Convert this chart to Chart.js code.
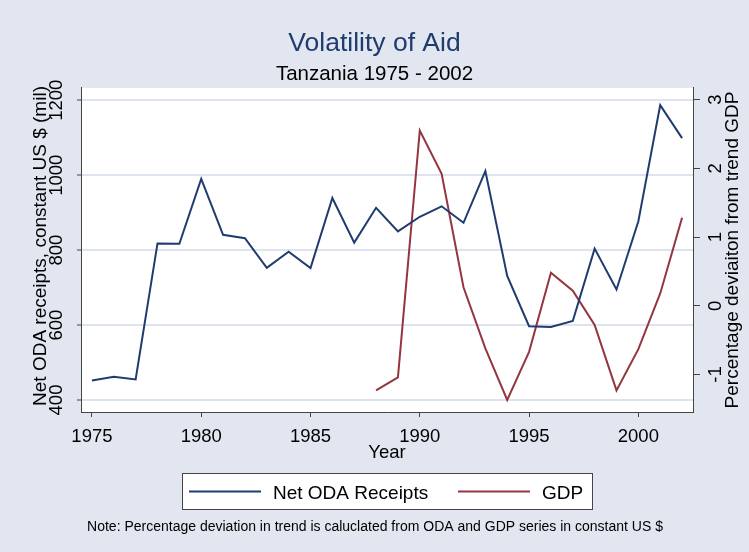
<!DOCTYPE html>
<html lang="en">
<head>
    <meta charset="UTF-8">
    <title>Volatility of Aid</title>
    <script src="https://cdn.jsdelivr.net/npm/chart.js@4.4.1/dist/chart.umd.min.js"></script>
    <style>
        body {
            margin: 0;
            padding: 0;
            background-color: #e2e6f0;
        }
        canvas {
            display: block;
        }
    </style>
</head>
<body>
    <canvas id="aid-chart" width="749" height="552"></canvas>

    <script>
        // Data
        const years = [1975, 1976, 1977, 1978, 1979, 1980, 1981, 1982, 1983, 1984, 1985, 1986, 1987, 1988,
                       1989, 1990, 1991, 1992, 1993, 1994, 1995, 1996, 1997, 1998, 1999, 2000, 2001, 2002];
        const odaValues = [452, 462, 455, 818, 817, 990, 841, 832, 753, 796, 752, 939, 820, 913,
                           850, 889, 917, 873, 1011, 731, 597, 595, 611, 804, 695, 877, 1187, 1099];
        const gdpYears = [1988, 1989, 1990, 1991, 1992, 1993, 1994, 1995, 1996, 1997, 1998, 1999, 2000, 2001, 2002];
        const gdpValues = [-1.23, -1.04, 2.55, 1.92, 0.27, -0.62, -1.37, -0.67, 0.48, 0.22, -0.28, -1.23, -0.63, 0.18, 1.28];

        const xTicks = [1975, 1980, 1985, 1990, 1995, 2000];
        const odaTicks = [400, 600, 800, 1000, 1200];
        const gdpTicks = [-1, 0, 1, 2, 3];

        const FONT = "'Liberation Sans', Arial, sans-serif";
        const NAVY = '#1f3c6f';
        const MAROON = '#933640';
        const AXIS = '#444444';

        // white plot region on the bluish background
        const backgroundPlugin = {
            id: 'background',
            beforeDraw(chart) {
                const ctx = chart.ctx;
                const a = chart.chartArea;
                ctx.save();
                ctx.fillStyle = '#e2e6f0';
                ctx.fillRect(0, 0, chart.width, chart.height);
                ctx.fillStyle = '#ffffff';
                ctx.fillRect(a.left, a.top, a.right - a.left, a.bottom - a.top);
                ctx.restore();
            }
        };

        // rotated y tick labels, axis titles, boxed legend and note
        const stataPlugin = {
            id: 'stata',
            afterDraw(chart) {
                const ctx = chart.ctx;
                const yL = chart.scales.y;
                const yR = chart.scales.y1;
                ctx.save();
                ctx.fillStyle = '#000';
                ctx.textAlign = 'center';
                ctx.textBaseline = 'alphabetic';

                function rotated(text, x, y, font) {
                    ctx.save();
                    ctx.translate(x, y);
                    ctx.rotate(-Math.PI / 2);
                    ctx.font = font;
                    ctx.fillText(text, 0, 0);
                    ctx.restore();
                }

                yL.ticks.forEach(t => rotated(String(t.value), 62, yL.getPixelForValue(t.value), '18.5px ' + FONT));
                yR.ticks.forEach(t => rotated(String(t.value), 721, yR.getPixelForValue(t.value), '18.5px ' + FONT));

                rotated('Net ODA receipts, constant US $ (mil)', 46, 246, '19px ' + FONT);
                rotated('Percentage deviaiton from trend GDP', 738, 250, '19px ' + FONT);

                // legend
                ctx.fillStyle = '#ffffff';
                ctx.fillRect(182, 473, 410, 36);
                ctx.strokeStyle = AXIS;
                ctx.lineWidth = 1;
                ctx.strokeRect(182.5, 473.5, 410, 36);

                const items = [
                    { x: 189, ds: chart.data.datasets[0] },
                    { x: 458, ds: chart.data.datasets[1] }
                ];
                ctx.font = '19px ' + FONT;
                ctx.textAlign = 'left';
                items.forEach(it => {
                    ctx.strokeStyle = it.ds.borderColor;
                    ctx.lineWidth = 2;
                    ctx.beginPath();
                    ctx.moveTo(it.x, 491.5);
                    ctx.lineTo(it.x + 72, 491.5);
                    ctx.stroke();
                    ctx.fillStyle = '#000';
                    ctx.fillText(it.ds.label, it.x + 84, 499);
                });

                ctx.font = '14px ' + FONT;
                ctx.textAlign = 'center';
                ctx.fillText('Note: Percentage deviation in trend is caluclated from ODA and GDP series in constant US $', 375, 531);
                ctx.restore();
            }
        };

        const aidChart = new Chart(
            document.getElementById('aid-chart'),
            {
                type: 'line',
                data: {
                    datasets: [{
                        label: 'Net ODA Receipts',
                        data: years.map((yr, i) => ({ x: yr, y: odaValues[i] })),
                        borderColor: NAVY,
                        borderWidth: 2,
                        pointRadius: 0,
                        tension: 0,
                        yAxisID: 'y'
                    }, {
                        label: 'GDP',
                        data: gdpYears.map((yr, i) => ({ x: yr, y: gdpValues[i] })),
                        borderColor: MAROON,
                        borderWidth: 2,
                        pointRadius: 0,
                        tension: 0,
                        yAxisID: 'y1'
                    }]
                },
                options: {
                    responsive: false,
                    animation: false,
                    devicePixelRatio: 1,
                    layout: {
                        padding: { top: 0, left: 0, right: 0, bottom: 85 }
                    },
                    plugins: {
                        legend: { display: false },
                        tooltip: { enabled: false },
                        title: {
                            display: true,
                            text: 'Volatility of Aid',
                            color: NAVY,
                            font: { family: FONT, size: 26.5, weight: 'normal' },
                            padding: { top: 28, bottom: 2.5 }
                        },
                        subtitle: {
                            display: true,
                            text: 'Tanzania 1975 - 2002',
                            color: '#000',
                            font: { family: FONT, size: 20.5, weight: 'normal' },
                            padding: { top: 0, bottom: 1 }
                        }
                    },
                    scales: {
                        x: {
                            type: 'linear',
                            min: 1974.5,
                            max: 2002.5,
                            afterBuildTicks: axis => { axis.ticks = xTicks.map(v => ({ value: v })); },
                            afterFit: axis => { axis.height = 55; },
                            ticks: {
                                color: '#000',
                                font: { family: FONT, size: 18.5 },
                                padding: 9,
                                maxRotation: 0,
                                callback: v => String(v)
                            },
                            grid: {
                                drawOnChartArea: false,
                                drawTicks: true,
                                tickLength: 5,
                                tickColor: AXIS
                            },
                            border: { display: true, color: AXIS, width: 1 },
                            title: {
                                display: true,
                                text: 'Year',
                                color: '#000',
                                font: { family: FONT, size: 18.5 },
                                padding: { top: 0, bottom: 3 }
                            }
                        },
                        y: {
                            position: 'left',
                            min: 368,
                            max: 1233,
                            afterBuildTicks: axis => { axis.ticks = odaTicks.map(v => ({ value: v })); },
                            afterFit: axis => { axis.width = 81; },
                            ticks: { display: false },
                            grid: {
                                color: '#dde4ef',
                                lineWidth: 2,
                                drawTicks: true,
                                tickLength: 4,
                                tickColor: AXIS,
                                tickWidth: 1
                            },
                            border: { display: true, color: AXIS, width: 1 }
                        },
                        y1: {
                            position: 'right',
                            min: -1.545,
                            max: 3.17,
                            afterBuildTicks: axis => { axis.ticks = gdpTicks.map(v => ({ value: v })); },
                            afterFit: axis => { axis.width = 56; },
                            ticks: { display: false },
                            grid: {
                                drawOnChartArea: false,
                                drawTicks: true,
                                tickLength: 7,
                                tickColor: AXIS
                            },
                            border: { display: true, color: AXIS, width: 1 }
                        }
                    }
                },
                plugins: [backgroundPlugin, stataPlugin]
            }
        );
    </script>
</body>
</html>
